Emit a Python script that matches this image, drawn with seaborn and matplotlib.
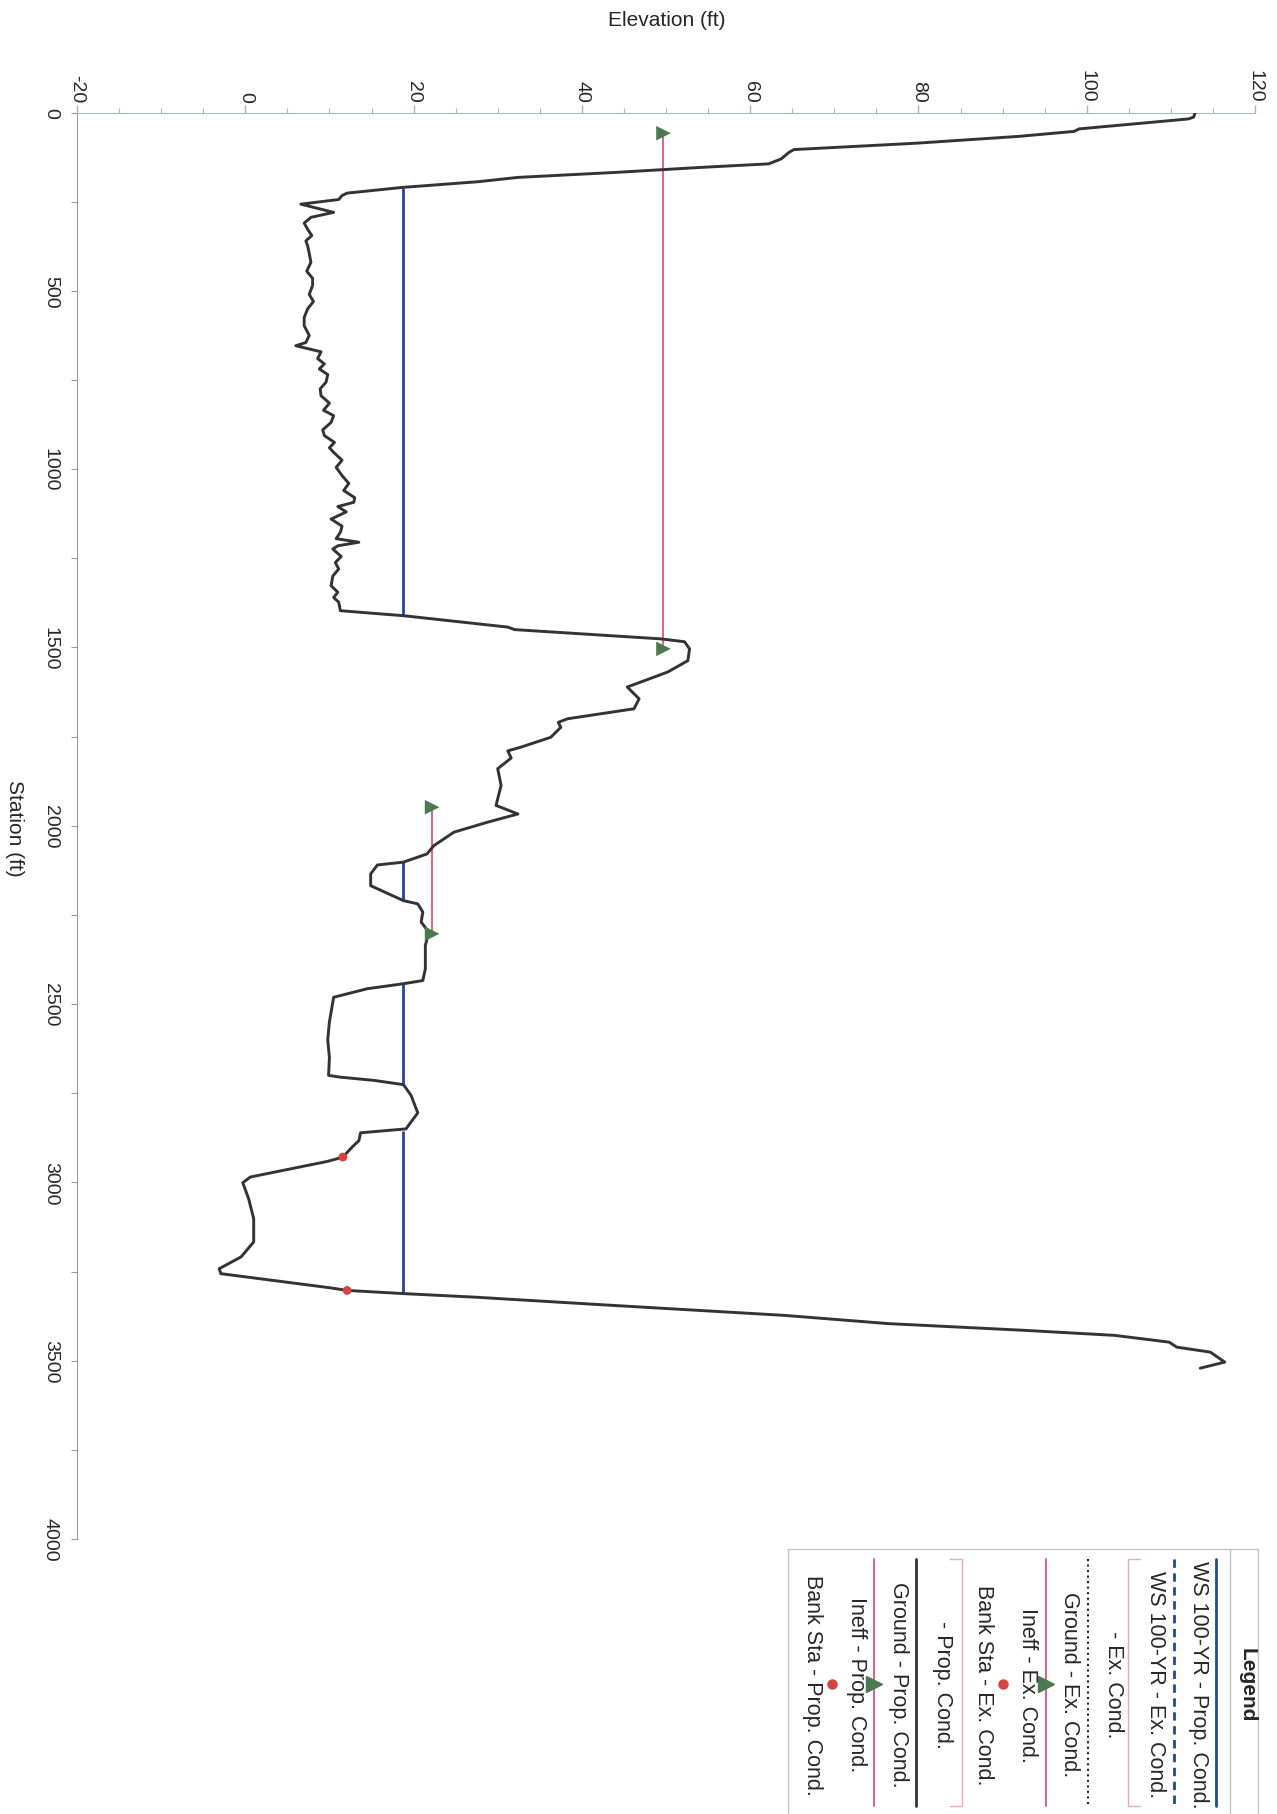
import numpy as np
import pandas as pd
import matplotlib
matplotlib.use('Agg')
import matplotlib.pyplot as plt
import seaborn as sns
from matplotlib.lines import Line2D
from matplotlib.patches import Rectangle

# ground profile (station ft, elevation ft)
station = [0, 13, 18, 46, 53, 67, 86, 104, 112, 130, 144, 154, 168, 182, 194,
           210, 226, 233, 244, 257, 280, 294, 310, 327, 345, 360, 373, 395, 420,
           445, 465, 485, 510, 530, 551, 575, 598, 625, 645, 654, 671, 690, 705,
           719, 735, 756, 775, 794, 815, 835, 850, 869, 890, 906, 925, 940, 953,
           975, 995, 1018, 1040, 1060, 1080, 1093, 1105, 1120, 1140, 1160, 1177,
           1195, 1205, 1215, 1224, 1245, 1262, 1280, 1300, 1327, 1345, 1360, 1373,
           1397, 1411, 1443, 1450, 1476, 1484, 1504, 1537, 1569, 1611, 1644, 1672,
           1700, 1710, 1724, 1752, 1780, 1790, 1810, 1840, 1887, 1943, 1967, 1990,
           2018, 2056, 2079, 2102, 2110, 2135, 2168, 2210, 2219, 2242, 2270, 2298,
           2336, 2401, 2434, 2443, 2457, 2481, 2550, 2600, 2650, 2700, 2705, 2714,
           2726, 2756, 2805, 2850, 2861, 2883, 2901, 2929, 2941, 2985, 3001, 3046,
           3102, 3167, 3209, 3242, 3256, 3296, 3303, 3312, 3322, 3345, 3373, 3396,
           3415, 3429, 3448, 3462, 3476, 3504, 3521]
elevation = [112.9, 112.7, 112.1, 99.1, 98.5, 91.9, 79.8, 65.2, 64.6, 63.7, 62.2,
             54.1, 44.0, 32.4, 27.7, 18.7, 12.1, 11.5, 11.1, 6.6, 10.5, 7.8, 7.0,
             7.4, 7.9, 7.2, 7.4, 7.6, 7.8, 7.3, 8.0, 8.0, 7.6, 8.1, 7.4, 7.0, 7.0,
             7.6, 7.2, 6.0, 9.0, 8.6, 9.4, 8.8, 9.8, 9.6, 8.9, 9.0, 10.0, 9.3, 10.5,
             10.2, 9.2, 9.4, 10.6, 10.0, 10.5, 11.5, 10.8, 11.5, 12.3, 11.7, 13.0,
             12.9, 11.0, 12.0, 10.2, 11.5, 11.3, 10.8, 13.5, 11.0, 10.4, 11.4, 10.7,
             11.1, 10.4, 10.2, 11.0, 10.5, 11.1, 11.3, 18.8, 31.2, 32.0, 49.4, 52.2,
             52.8, 52.6, 50.2, 45.4, 46.8, 46.2, 38.3, 37.2, 37.5, 36.3, 32.7, 31.2,
             31.6, 30.0, 30.4, 29.8, 32.4, 28.8, 24.8, 22.4, 21.6, 18.8, 15.7, 14.9,
             14.9, 18.8, 20.5, 21.1, 20.9, 21.8, 21.4, 21.4, 21.1, 18.8, 14.5, 10.5,
             10.0, 9.8, 10.0, 9.9, 11.3, 15.3, 18.8, 19.7, 20.5, 19.1, 13.7, 13.5,
             12.7, 11.6, 9.8, 0.6, -0.3, 0.4, 1.0, 1.0, -0.5, -3.1, -2.9, 10.2, 12.1,
             18.9, 27.4, 43.7, 64.1, 76.4, 92.7, 103.3, 109.8, 110.7, 114.7, 116.4,
             113.5]

# water surface 100-yr
ws_elev = 18.8
ws_start = [211, 2102, 2443, 2857]
ws_end = [1411, 2210, 2726, 3310]

# ineffective flow areas
ineff_elev = [49.7, 22.2]
ineff_start = [58, 1948]
ineff_end = [1504, 2303]

# bank stations
bank_sta = [2929, 3303]
bank_elev = [11.6, 12.1]

elev_ticks = [-20, 0, 20, 40, 60, 80, 100, 120]
sta_ticks = [0, 500, 1000, 1500, 2000, 2500, 3000, 3500, 4000]

legend_labels = ['WS 100-YR - Prop. Cond.', 'WS 100-YR - Ex. Cond.', '- Ex. Cond.',
                 'Ground - Ex. Cond.', 'Ineff - Ex. Cond.', 'Bank Sta - Ex. Cond.',
                 '- Prop. Cond.', 'Ground - Prop. Cond.', 'Ineff - Prop. Cond.',
                 'Bank Sta - Prop. Cond.']

BLUE = '#1f45a5'
PINK = '#e3508c'
GREEN = '#4b7a4e'
RED = '#d8433f'
GROUND = '#333333'
AXC = '#a9b9b9'

sns.set_style('white')
plt.rcParams['font.family'] = ['Liberation Sans', 'DejaVu Sans']

W, H = 1277, 1815
fig = plt.figure(figsize=(W / 100, H / 100), dpi=100)
ax = fig.add_axes([77 / W, 1 - 1540 / H, (1255 - 77) / W, (1540 - 113.5) / H])

ground = pd.DataFrame({'Station': station, 'Elevation': elevation})
ws = pd.DataFrame({'start': ws_start, 'end': ws_end})
ineff = pd.DataFrame({'Elevation': ineff_elev * 2, 'Station': ineff_start + ineff_end})
bank = pd.DataFrame({'Station': bank_sta, 'Elevation': bank_elev})

ax.vlines([ws_elev] * len(ws), ws['start'], ws['end'], color=BLUE, lw=2.0, zorder=2)
ax.vlines(ineff_elev, ineff_start, ineff_end, color=PINK, lw=1.3, zorder=2)
sns.lineplot(data=ground, x='Elevation', y='Station', sort=False, estimator=None,
             color=GROUND, lw=2.1, ax=ax, zorder=3)
sns.scatterplot(data=ineff, x='Elevation', y='Station', marker='>', s=110,
                color=GREEN, edgecolor='none', ax=ax, zorder=4)
sns.scatterplot(data=bank, x='Elevation', y='Station', marker='o', s=40,
                color=RED, edgecolor='none', ax=ax, zorder=4)

ax.set_xlim(-20, 120)
ax.set_ylim(4000, 0)
ax.set_xlabel('')
ax.set_ylabel('')
ax.xaxis.tick_top()
ax.set_xticks(elev_ticks)
ax.set_xticks(np.arange(-20, 121, 5), minor=True)
ax.set_xticklabels([str(t) for t in elev_ticks], rotation=-90, ha='center', va='bottom')
ax.set_yticks(sta_ticks)
ax.set_yticks(np.arange(0, 4001, 250), minor=True)
ax.set_yticklabels([str(t) for t in sta_ticks], rotation=-90, ha='right', va='center')
ax.tick_params(axis='x', which='major', length=6, width=1, color=AXC, pad=1.5,
               labelsize=14, top=True, bottom=False)
ax.tick_params(axis='x', which='minor', length=3.5, width=0.8, color=AXC,
               top=True, bottom=False)
ax.tick_params(axis='y', which='both', length=4, width=0.8, color='#999999', pad=9,
               labelsize=14, left=True)
for s in ['right', 'bottom']:
    ax.spines[s].set_visible(False)
ax.spines['top'].set_color(AXC)
ax.spines['left'].set_color('#999999')

fig.text(667 / W, 1 - 20 / H, 'Elevation (ft)', ha='center', va='center', fontsize=15)
fig.text(14 / W, 1 - 828 / H, 'Station (ft)', rotation=-90, ha='center', va='center',
         fontsize=15)


# legend, drawn rotated like the rest of the sheet
def fx(x):
    return x / W


def fy(y):
    return 1 - y / H


tr = fig.transFigure
fig.patches.append(Rectangle((fx(788), fy(1830)), fx(1258) - fx(788), fy(1550) - fy(1830),
                             transform=tr, fill=False, edgecolor='#c4c4c4', lw=1))
fig.lines.append(Line2D([fx(1230)] * 2, [fy(1550), fy(1830)], transform=tr,
                        color='#c4c4c4', lw=1))
fig.text(fx(1247), fy(1685), 'Legend', rotation=-90, ha='center', va='center',
         fontsize=15, fontweight='bold')

sym_x = [1216, 1174, 1128, 1088, 1046, 1003, 962, 916, 874, 832]
txt_x = [1198, 1156, 1113, 1070, 1027, 984, 943, 898, 856, 813]
y0, y1, yc = 1560, 1807, 1685

for i, lab in enumerate(legend_labels):
    x = fx(sym_x[i])
    if i == 0:
        fig.lines.append(Line2D([x, x], [fy(y0), fy(y1)], transform=tr, color=BLUE, lw=2))
    elif i == 1:
        fig.lines.append(Line2D([x, x], [fy(y0), fy(y1)], transform=tr, color=BLUE, lw=2,
                                dashes=(3, 2)))
    elif i in (2, 6):
        d = 12 if i == 2 else -12
        fig.lines.append(Line2D([fx(sym_x[i] + d), x, x, fx(sym_x[i] + d)],
                                [fy(y0), fy(y0), fy(y1), fy(y1)], transform=tr,
                                color='#f2a6c4', lw=1))
    elif i == 3:
        fig.lines.append(Line2D([x, x], [fy(y0), fy(y1)], transform=tr, color='#222222',
                                lw=1.5, ls=':'))
    elif i in (4, 8):
        fig.lines.append(Line2D([x, x], [fy(y0), fy(y1)], transform=tr, color=PINK, lw=1.3))
        fig.lines.append(Line2D([x], [fy(yc)], transform=tr, marker='>', ms=11,
                                color=GREEN, ls='none'))
    elif i in (5, 9):
        fig.lines.append(Line2D([x], [fy(yc)], transform=tr, marker='o', ms=6.5,
                                color=RED, ls='none'))
    elif i == 7:
        fig.lines.append(Line2D([x, x], [fy(y0), fy(y1)], transform=tr, color=GROUND, lw=2))
    fig.text(fx(txt_x[i]), fy(yc), lab, rotation=-90, ha='center', va='center',
             fontsize=15.5)

fig.savefig('out.png', dpi=100)
